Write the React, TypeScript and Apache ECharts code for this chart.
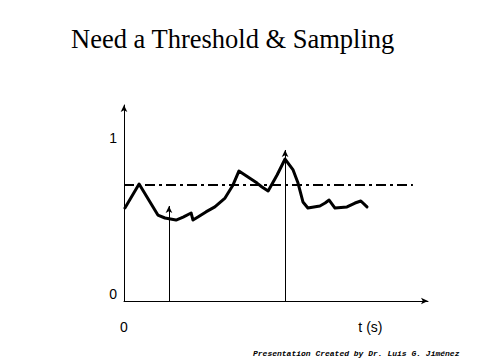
import React, { useEffect, useRef } from "react";
import * as echarts from "echarts";

const titleText = "Need a Threshold & Sampling";
const footerText = "Presentation Created by Dr. Luis G. Jiménez";

// signal: time (s) and amplitude
const signalT = [0.03, 0.49, 1.10, 1.33, 1.69, 1.92, 2.18, 2.24, 2.40, 2.66, 2.95, 3.28, 3.54, 3.73, 4.32, 4.48, 4.68, 4.97, 5.23, 5.49, 5.65, 5.81, 5.97, 6.36, 6.53, 6.66, 6.85, 7.24, 7.50, 7.69, 7.89];
const signalV = [0.596, 0.750, 0.551, 0.532, 0.519, 0.538, 0.564, 0.519, 0.538, 0.571, 0.603, 0.660, 0.744, 0.833, 0.756, 0.731, 0.705, 0.808, 0.910, 0.840, 0.756, 0.635, 0.596, 0.609, 0.628, 0.647, 0.596, 0.603, 0.628, 0.641, 0.603];

const thresholdValue = 0.744;
const thresholdSpan = [0, 9.38];

const sampleT = [1.46, 5.23];
const sampleV = [0.609, 0.968];

const xTickValues = [0, 8];
const xTickLabels = ["0", "t (s)"];
const yTickValues = [0, 1];
const yTickLabels = ["0", "1"];

export default function App() {
  const ref = useRef<HTMLDivElement>(null);
  useEffect(() => {
    if (!ref.current) return;
    const chart = echarts.init(ref.current, null, { renderer: "svg" });
    const labelFont = {
      fontFamily: "Liberation Sans",
      fontSize: 14,
      color: "#000",
    };
    chart.setOption({
      animation: false,
      backgroundColor: "#fff",
      title: {
        text: titleText,
        left: 66,
        top: 20,
        textStyle: {
          fontFamily: "Liberation Serif",
          fontSize: 26.5,
          fontWeight: "normal",
          color: "#000",
        },
      },
      grid: { left: 124, top: 105, width: 304, height: 196, containLabel: false },
      xAxis: {
        type: "value",
        min: 0,
        max: 304 / 30.8,
        axisLine: {
          show: true,
          symbol: ["none", "arrow"],
          symbolSize: [5, 7],
          lineStyle: { color: "#000", width: 1 },
        },
        axisTick: { show: false },
        splitLine: { show: false },
        axisLabel: {
          customValues: xTickValues,
          margin: 19,
          ...labelFont,
          formatter: (v: number) => xTickLabels[xTickValues.indexOf(v)] ?? "",
        },
      },
      yAxis: {
        type: "value",
        min: 0,
        max: 196 / 156,
        axisLine: {
          show: true,
          symbol: ["none", "arrow"],
          symbolSize: [5, 7],
          lineStyle: { color: "#000", width: 1 },
        },
        axisTick: { show: false },
        splitLine: { show: false },
        axisLabel: {
          customValues: yTickValues,
          margin: 7,
          verticalAlign: "bottom",
          ...labelFont,
          formatter: (v: number) => yTickLabels[yTickValues.indexOf(v)] ?? "",
        },
      },
      series: [
        {
          type: "line",
          name: "threshold",
          data: thresholdSpan.map((t) => [t, thresholdValue]),
          showSymbol: false,
          lineStyle: { color: "#000", width: 2, type: [10, 4, 3, 4] },
          silent: true,
        },
        {
          type: "line",
          name: "signal",
          data: signalT.map((t, i) => [t, signalV[i]]),
          showSymbol: false,
          lineStyle: { color: "#000", width: 3, join: "round", cap: "round" },
          silent: true,
          markLine: {
            silent: true,
            symbol: ["none", "arrow"],
            symbolSize: [5, 7],
            label: { show: false },
            lineStyle: { color: "#000", width: 1, type: "solid" },
            data: sampleT.map((t, i) => [
              { coord: [t, 0] },
              { coord: [t, sampleV[i]] },
            ]),
          },
        },
      ],
      graphic: [
        {
          type: "text",
          left: 253,
          top: 349,
          style: {
            text: footerText,
            font: 'italic bold 8px "Liberation Mono"',
            fill: "#000",
          },
        },
      ],
    });
    return () => chart.dispose();
  }, []);
  return (
    <div
      ref={ref}
      style={{ position: "fixed", left: 0, top: 0, width: 480, height: 360 }}
    />
  );
}
